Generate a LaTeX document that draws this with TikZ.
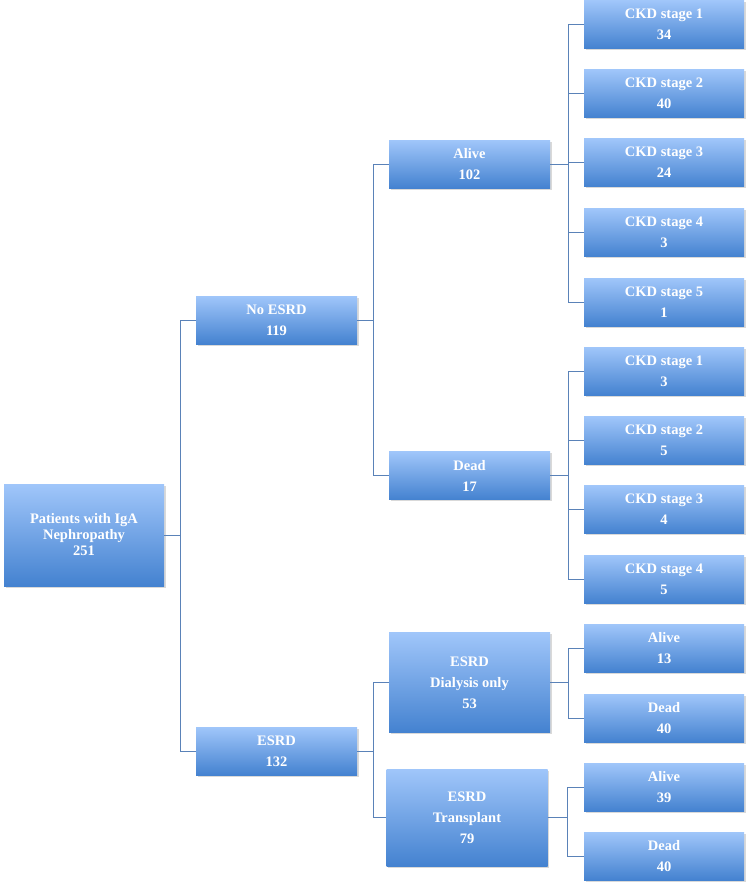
\documentclass[tikz,border=0pt]{standalone}
\usepackage{fontspec}
\setmainfont{Liberation Serif}
\usepackage{xcolor}
\usepackage{tikz}
\usetikzlibrary{
  positioning,
  shadows,
  calc
}
\definecolor{boxtop}{HTML}{A0C6FA}
\definecolor{boxbot}{HTML}{4482D0}
\definecolor{branch}{HTML}{5A82B8}

\tikzset{
  card/.style={rectangle, inner sep=0pt, minimum width=161pt, minimum height=48pt,
    top color=boxtop, bottom color=boxbot, draw=none, align=center, text=white,
    font=\bfseries\fontsize{14.5}{21}\selectfont,
    drop shadow={opacity=0.3, shadow xshift=1.5pt, shadow yshift=-1.5pt}},
  tallcard/.style={card, minimum height=100pt},
  link/.style={draw=branch, line width=0.7pt}
}

\begin{document}
\begin{tikzpicture}[x=1pt, y=-1pt]
  \useasboundingbox (0,0) rectangle (747,887);

  % root and first split
  \node[card, minimum width=160pt, minimum height=102pt,
    font=\bfseries\fontsize{14.5}{16}\selectfont] (root) at (84,535)
    {Patients with IgA\\Nephropathy\\251};
  \node[card] (noesrd) at (276.5,320) {No ESRD\\119};
  \node[card] (esrd) at (276.5,751) {ESRD\\132};

  % second level
  \node[card] (alive) at (469.5,164) {Alive\\102};
  \node[card] (dead) at (469.5,475.5) {Dead\\17};
  \node[tallcard] (dial) at (469.5,682.5) {ESRD\\Dialysis only\\53};
  \node[tallcard, minimum height=97pt] (trans) at (467,817.5) {ESRD\\Transplant\\79};

  % CKD stages
  \foreach \i/\y/\n in {1/24.5/34, 2/93.5/40, 3/162.5/24, 4/232.5/3, 5/302/1} {
    \node[card, minimum width=160pt] (a\i) at (664,\y) {CKD stage \i\\\n};
  }
  \foreach \i/\y/\n in {1/371/3, 2/440.5/5, 3/509.5/4, 4/579/5} {
    \node[card, minimum width=160pt] (d\i) at (664,\y) {CKD stage \i\\\n};
  }

  % outcomes after ESRD
  \node[card, minimum width=160pt] (dla) at (664,648) {Alive\\13};
  \node[card, minimum width=160pt] (dld) at (664,718) {Dead\\40};
  \node[card, minimum width=160pt] (tra) at (664,787) {Alive\\39};
  \node[card, minimum width=160pt] (trd) at (664,856) {Dead\\40};

  % connectors
  \foreach \t in {noesrd, esrd}
    \draw[link] (root.east) -- ++(16,0) |- (\t.west);
  \foreach \t in {alive, dead}
    \draw[link] (noesrd.east) -- ++(16,0) |- (\t.west);
  \foreach \t in {dial, trans}
    \draw[link] (esrd.east) -- ++(16,0) |- (\t.west);
  \foreach \i in {1,...,5}
    \draw[link] (alive.east) -- ++(18,0) |- (a\i.west);
  \foreach \i in {1,...,4}
    \draw[link] (dead.east) -- ++(18,0) |- (d\i.west);
  \foreach \t in {dla, dld}
    \draw[link] (dial.east) -- ++(18,0) |- (\t.west);
  \foreach \t in {tra, trd}
    \draw[link] (trans.east) -- ++(20,0) |- (\t.west);
\end{tikzpicture}
\end{document}
